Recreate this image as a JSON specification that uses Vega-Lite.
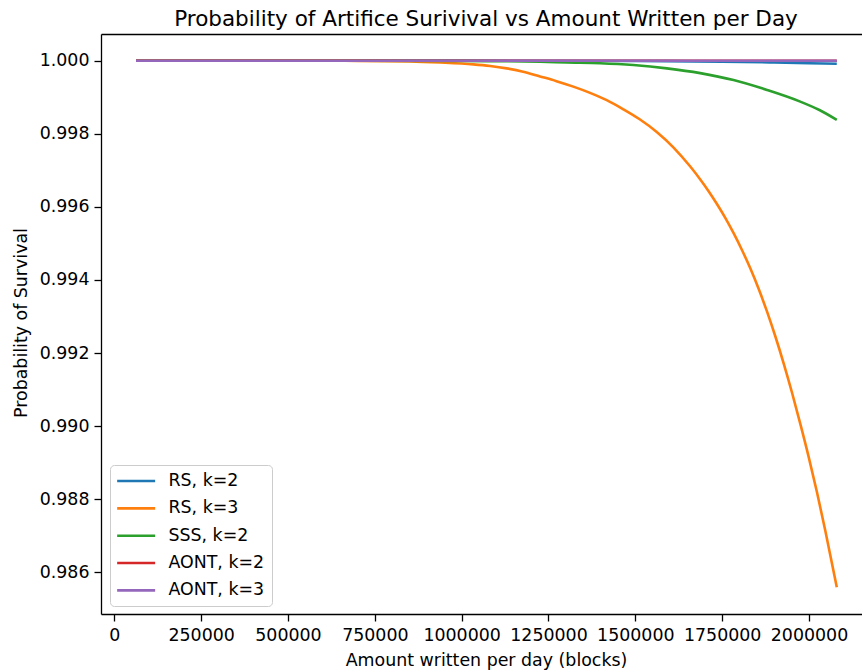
{
  "$schema": "https://vega.github.io/schema/vega-lite/v6.json",
  "width": 761,
  "height": 580,
  "autosize": {"type": "none"},
  "padding": {"left": 101, "top": 34, "right": 0, "bottom": 58},
  "title": {
    "text": "Probability of Artifice Surivival vs Amount Written per Day",
    "fontSize": 21.5,
    "font": "DejaVu Sans",
    "fontWeight": "normal",
    "color": "#000000",
    "anchor": "middle",
    "dx": 4.5,
    "dy": 21.5,
    "offset": 8,
    "baseline": "alphabetic"
  },
  "config": {
    "view": {"stroke": null},
    "font": "DejaVu Sans",
    "axis": {
      "labelFont": "DejaVu Sans",
      "titleFont": "DejaVu Sans",
      "labelFontSize": 17.4,
      "titleFontSize": 17.4,
      "titleFontWeight": "normal",
      "labelColor": "#000000",
      "titleColor": "#000000",
      "domainColor": "#000000",
      "domainWidth": 1.3,
      "tickColor": "#000000",
      "tickWidth": 1.3,
      "tickSize": 7,
      "labelPadding": 5,
      "grid": false
    }
  },
  "data": {
    "values": [
      {"x": 62500, "p": 1.0, "s": "RS, k=2"},
      {"x": 1000000, "p": 1.0, "s": "RS, k=2"},
      {"x": 1500000, "p": 0.99999, "s": "RS, k=2"},
      {"x": 1750000, "p": 0.999975, "s": "RS, k=2"},
      {"x": 1900000, "p": 0.99995, "s": "RS, k=2"},
      {"x": 2000000, "p": 0.99993, "s": "RS, k=2"},
      {"x": 2080000, "p": 0.999915, "s": "RS, k=2"},

      {"x": 62500, "p": 1.0, "s": "RS, k=3"},
      {"x": 300000, "p": 1.0, "s": "RS, k=3"},
      {"x": 500000, "p": 0.999999, "s": "RS, k=3"},
      {"x": 700000, "p": 0.999995, "s": "RS, k=3"},
      {"x": 850000, "p": 0.99998, "s": "RS, k=3"},
      {"x": 938000, "p": 0.99995, "s": "RS, k=3"},
      {"x": 1033500, "p": 0.9999, "s": "RS, k=3"},
      {"x": 1082000, "p": 0.999855, "s": "RS, k=3"},
      {"x": 1129700, "p": 0.99979, "s": "RS, k=3"},
      {"x": 1177000, "p": 0.9997, "s": "RS, k=3"},
      {"x": 1225600, "p": 0.99957, "s": "RS, k=3"},
      {"x": 1273000, "p": 0.99944, "s": "RS, k=3"},
      {"x": 1321500, "p": 0.99929, "s": "RS, k=3"},
      {"x": 1369600, "p": 0.99912, "s": "RS, k=3"},
      {"x": 1417700, "p": 0.99892, "s": "RS, k=3"},
      {"x": 1465500, "p": 0.99867, "s": "RS, k=3"},
      {"x": 1513600, "p": 0.99839, "s": "RS, k=3"},
      {"x": 1561700, "p": 0.99805, "s": "RS, k=3"},
      {"x": 1609500, "p": 0.99763, "s": "RS, k=3"},
      {"x": 1657600, "p": 0.99711, "s": "RS, k=3"},
      {"x": 1687000, "p": 0.99675, "s": "RS, k=3"},
      {"x": 1711000, "p": 0.99643, "s": "RS, k=3"},
      {"x": 1735000, "p": 0.99608, "s": "RS, k=3"},
      {"x": 1759000, "p": 0.9957, "s": "RS, k=3"},
      {"x": 1783000, "p": 0.99528, "s": "RS, k=3"},
      {"x": 1807000, "p": 0.99482, "s": "RS, k=3"},
      {"x": 1831000, "p": 0.99432, "s": "RS, k=3"},
      {"x": 1855000, "p": 0.99376, "s": "RS, k=3"},
      {"x": 1879000, "p": 0.99314, "s": "RS, k=3"},
      {"x": 1903000, "p": 0.99246, "s": "RS, k=3"},
      {"x": 1927000, "p": 0.99172, "s": "RS, k=3"},
      {"x": 1951000, "p": 0.99092, "s": "RS, k=3"},
      {"x": 1975000, "p": 0.99006, "s": "RS, k=3"},
      {"x": 1999000, "p": 0.98916, "s": "RS, k=3"},
      {"x": 2023000, "p": 0.98819, "s": "RS, k=3"},
      {"x": 2047000, "p": 0.98714, "s": "RS, k=3"},
      {"x": 2066000, "p": 0.98625, "s": "RS, k=3"},
      {"x": 2080000, "p": 0.98559, "s": "RS, k=3"},

      {"x": 62500, "p": 1.0, "s": "SSS, k=2"},
      {"x": 700000, "p": 1.0, "s": "SSS, k=2"},
      {"x": 1000000, "p": 0.999995, "s": "SSS, k=2"},
      {"x": 1226000, "p": 0.99997, "s": "SSS, k=2"},
      {"x": 1302000, "p": 0.99995, "s": "SSS, k=2"},
      {"x": 1398700, "p": 0.99993, "s": "SSS, k=2"},
      {"x": 1494600, "p": 0.99988, "s": "SSS, k=2"},
      {"x": 1590800, "p": 0.99979, "s": "SSS, k=2"},
      {"x": 1686800, "p": 0.99966, "s": "SSS, k=2"},
      {"x": 1782700, "p": 0.99947, "s": "SSS, k=2"},
      {"x": 1878900, "p": 0.9992, "s": "SSS, k=2"},
      {"x": 1974900, "p": 0.99888, "s": "SSS, k=2"},
      {"x": 2030000, "p": 0.99865, "s": "SSS, k=2"},
      {"x": 2080000, "p": 0.99838, "s": "SSS, k=2"},

      {"x": 62500, "p": 1.0, "s": "AONT, k=2"},
      {"x": 1500000, "p": 1.0, "s": "AONT, k=2"},
      {"x": 2080000, "p": 0.999998, "s": "AONT, k=2"},

      {"x": 62500, "p": 1.0, "s": "AONT, k=3"},
      {"x": 1000000, "p": 1.0, "s": "AONT, k=3"},
      {"x": 2080000, "p": 1.0, "s": "AONT, k=3"}
    ]
  },
  "layer": [
    {
      "mark": {"type": "line", "strokeWidth": 2.6, "interpolate": "monotone"},
      "encoding": {
        "x": {
          "field": "x",
          "type": "quantitative",
          "scale": {"domain": [-38300, 2152600], "nice": false, "zero": false},
          "axis": {
            "values": [0, 250000, 500000, 750000, 1000000, 1250000, 1500000, 1750000, 2000000],
            "format": "d",
            "title": "Amount written per day (blocks)",
            "titleX": 385,
            "titleY": 51,
            "titleAlign": "center",
            "titleBaseline": "alphabetic",
            "labelFlush": false,
            "labelOverlap": false
          }
        },
        "y": {
          "field": "p",
          "type": "quantitative",
          "scale": {"domain": [0.98486, 1.00073], "nice": false, "zero": false},
          "axis": {
            "values": [0.986, 0.988, 0.99, 0.992, 0.994, 0.996, 0.998, 1.0],
            "format": ".3f",
            "title": "Probability of Survival",
            "titleX": -75,
            "titleY": 288.5,
            "titleAngle": -90,
            "titleAlign": "center",
            "titleBaseline": "alphabetic",
            "labelFlush": false,
            "labelOverlap": false
          }
        },
        "color": {
          "field": "s",
          "type": "nominal",
          "scale": {
            "domain": ["RS, k=2", "RS, k=3", "SSS, k=2", "AONT, k=2", "AONT, k=3"],
            "range": ["#1f77b4", "#ff7f0e", "#2ca02c", "#d62728", "#9467bd"]
          },
          "legend": {
            "orient": "none",
            "legendX": 9,
            "legendY": 431,
            "title": null,
            "symbolType": "M-2.5,0H2.5",
            "symbolSize": 231,
            "symbolStrokeWidth": 2.6,
            "symbolOffset": 10.15,
            "labelOffset": 23.3,
            "labelFontSize": 17.4,
            "labelFont": "DejaVu Sans",
            "labelColor": "#000000",
            "rowPadding": 9.35,
            "padding": 7,
            "fillColor": "rgba(255,255,255,0.8)",
            "strokeColor": "#cccccc",
            "cornerRadius": 4
          }
        }
      }
    },
    {
      "mark": {"type": "rule", "opacity": 0},
      "encoding": {
        "x": {
          "field": "x",
          "type": "quantitative",
          "axis": {
            "orient": "top",
            "labels": false,
            "ticks": false,
            "grid": false,
            "title": null,
            "minExtent": 0,
            "maxExtent": 0
          }
        }
      }
    }
  ],
  "resolve": {"axis": {"x": "independent"}}
}
